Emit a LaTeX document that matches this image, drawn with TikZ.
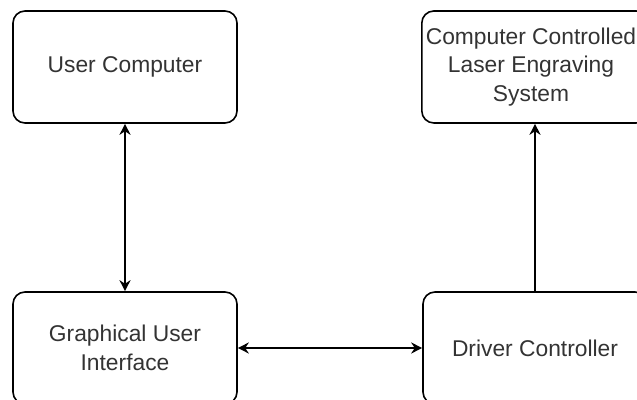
\documentclass[tikz,border=0pt]{standalone}
\usepackage{fontspec}
\setmainfont{Liberation Sans}
\usetikzlibrary{calc}
\usetikzlibrary{arrows.meta}
\definecolor{labelgray}{HTML}{333333}
\tikzset{>={Stealth[length=5.5pt,width=5.5pt]}}
\tikzset{block/.style={rectangle, draw, rounded corners=6pt, line width=0.8pt, inner sep=2pt, minimum width=112pt, minimum height=56pt, align=center, text=labelgray, font=\fontsize{11.4}{14.2}\selectfont}}
\tikzset{link/.style={line width=0.8pt}}
% label pushed a little to the left, as in the original
\newcommand{\nudged}[1]{\begin{tabular}{@{}c@{\hspace{4pt}}}#1\end{tabular}}

\begin{document}
\begin{tikzpicture}[x=0.5pt,y=-0.5pt]

    \useasboundingbox (0,0) rectangle (637,400);

    % Nodes
    \node [block] (user) at (125,67) {User Computer};
    \node [block] (laser) at ($(user) + (410,0)$) {\nudged{Computer Controlled\\Laser Engraving\\System}};
    \node [block] (gui) at ($(user) + (0,281)$) {Graphical User\\Interface};
    \node [block] (driver) at ($(gui) + (410,0)$) {Driver Controller};

    % Arrows between nodes
    \draw [<->,link] (user) -- (gui);
    \draw [<->,link] (gui) -- (driver);
    \draw [->,link] (driver) -- (laser);

\end{tikzpicture}
\end{document}
